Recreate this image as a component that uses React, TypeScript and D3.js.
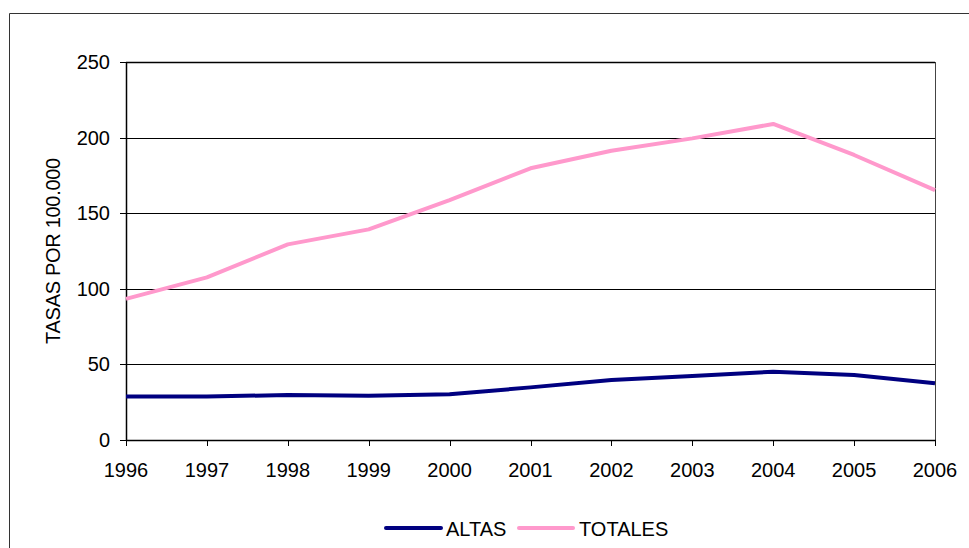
import React from "react";
import * as d3 from "d3";

const years = [1996, 1997, 1998, 1999, 2000, 2001, 2002, 2003, 2004, 2005, 2006];
const altas = [28.7, 28.7, 29.8, 29.3, 30.2, 34.8, 39.7, 42.3, 45.2, 43.0, 37.5];
const totales = [93.3, 107.6, 129.4, 139.3, 158.7, 179.7, 191.3, 199.5, 209.0, 188.5, 165.3];
const yTicks = [0, 50, 100, 150, 200, 250];
const seriesNames = ["ALTAS", "TOTALES"];
const seriesColors = ["#000080", "#FF99CC"];
const yTitle = "TASAS POR 100.000";

const W = 969;
const H = 548;
const L = 126;
const R = 935;
const T = 62;
const B = 440;
const FONT = "'Liberation Sans', Arial, sans-serif";
const FS = 20;

export default function App() {
  const x = d3.scaleLinear().domain([years[0], years[years.length - 1]]).range([L, R]);
  const y = d3.scaleLinear().domain([0, 250]).range([B, T]);
  const line = d3
    .line<number>()
    .x((_, i) => x(years[i]))
    .y((d) => y(d));
  const series = [altas, totales];

  return (
    <svg
      width={W}
      height={H}
      style={{ position: "absolute", left: 0, top: 0, background: "#fff" }}
      fontFamily={FONT}
    >
      <rect x={0} y={0} width={W} height={H} fill="#fff" />
      {/* outer border */}
      <path d={`M9.5,${H} V13.5 H${W}`} fill="none" stroke="#333" strokeWidth={1} />
      {/* gridlines */}
      {yTicks.map((t) => (
        <line
          key={t}
          x1={L}
          x2={R}
          y1={Math.round(y(t)) + 0.5}
          y2={Math.round(y(t)) + 0.5}
          stroke="#000"
          strokeWidth={t === 250 ? 1.5 : 1}
        />
      ))}
      {/* plot right border */}
      <line x1={R + 0.5} x2={R + 0.5} y1={T} y2={B} stroke="#444" strokeWidth={1} />
      {/* y axis */}
      <line x1={L + 0.5} x2={L + 0.5} y1={T} y2={B + 0.5} stroke="#000" strokeWidth={1.5} />
      {yTicks.map((t) => (
        <g key={t}>
          <line x1={L - 6} x2={L} y1={Math.round(y(t)) + 0.5} y2={Math.round(y(t)) + 0.5} stroke="#000" />
          <text x={110} y={y(t) + 7} textAnchor="end" fontSize={FS} fill="#000">
            {t}
          </text>
        </g>
      ))}
      {/* x axis */}
      <line x1={L} x2={R + 1} y1={B + 0.5} y2={B + 0.5} stroke="#000" strokeWidth={1.5} />
      {years.map((yr) => (
        <g key={yr}>
          <line x1={Math.round(x(yr)) + 0.5} x2={Math.round(x(yr)) + 0.5} y1={B} y2={B + 6} stroke="#000" />
          <text x={x(yr)} y={477} textAnchor="middle" fontSize={FS} fill="#000">
            {yr}
          </text>
        </g>
      ))}
      {/* y title */}
      <text
        transform={`translate(60,251) rotate(-90)`}
        textAnchor="middle"
        fontSize={FS}
        fill="#000"
        letterSpacing={-0.3}
      >
        {yTitle}
      </text>
      {/* series */}
      {series.map((s, i) => (
        <path
          key={i}
          d={line(s) || ""}
          fill="none"
          stroke={seriesColors[i]}
          strokeWidth={4}
          strokeLinejoin="round"
        />
      ))}
      {/* legend */}
      <line x1={386} x2={441} y1={528} y2={528} stroke={seriesColors[0]} strokeWidth={4} strokeLinecap="round" />
      <text x={446} y={536} fontSize={FS} fill="#000">
        {seriesNames[0]}
      </text>
      <line x1={519} x2={573} y1={528} y2={528} stroke={seriesColors[1]} strokeWidth={4} strokeLinecap="round" />
      <text x={579} y={536} fontSize={FS} fill="#000">
        {seriesNames[1]}
      </text>
    </svg>
  );
}
